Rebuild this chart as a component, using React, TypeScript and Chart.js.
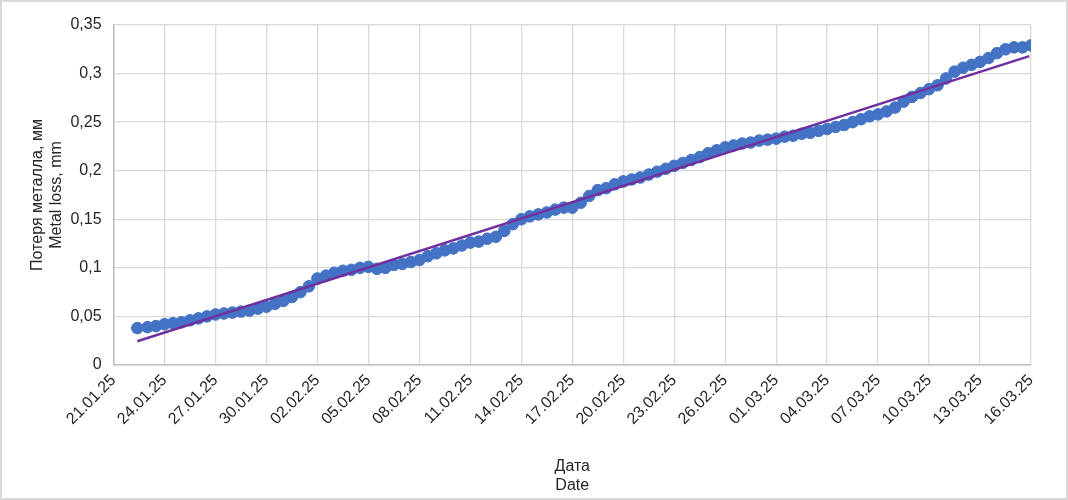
import React, { useEffect, useRef } from "react";
import { Chart, registerables } from "chart.js";

Chart.register(...registerables);

// Day offsets from 21.01.25 (day 0)
const days = [
  1.4, 2.0, 2.5, 3.0, 3.5, 4.0, 4.5, 5.0, 5.5, 6.0, 6.5, 7.0, 7.5, 8.0, 8.5, 9.0, 9.5, 10.0, 10.5, 11.0,
  11.5, 12.0, 12.5, 13.0, 13.5, 14.0, 14.5, 15.0, 15.5, 16.0, 16.5, 17.0, 17.5, 18.0, 18.5, 19.0, 19.5, 20.0,
  20.5, 21.0, 21.5, 22.0, 22.5, 23.0, 23.5, 24.0, 24.5, 25.0, 25.5, 26.0, 26.5, 27.0, 27.5, 28.0, 28.5, 29.0,
  29.5, 30.0, 30.5, 31.0, 31.5, 32.0, 32.5, 33.0, 33.5, 34.0, 34.5, 35.0, 35.5, 36.0, 36.5, 37.0, 37.5, 38.0,
  38.5, 39.0, 39.5, 40.0, 40.5, 41.0, 41.5, 42.0, 42.5, 43.0, 43.5, 44.0, 44.5, 45.0, 45.5, 46.0, 46.5, 47.0,
  47.5, 48.0, 48.5, 49.0, 49.5, 50.0, 50.5, 51.0, 51.5, 52.0, 52.5, 53.0, 53.5, 54.0,
];

// Metal loss, mm
const metalLoss = [
  0.038, 0.039, 0.040, 0.042, 0.043, 0.044, 0.046, 0.048, 0.050, 0.052, 0.053, 0.054, 0.055, 0.056, 0.058, 0.060, 0.063, 0.066, 0.070, 0.075,
  0.081, 0.089, 0.092, 0.095, 0.097, 0.098, 0.100, 0.101, 0.099, 0.100, 0.103, 0.104, 0.106, 0.108, 0.112, 0.115, 0.118, 0.120,
  0.123, 0.126, 0.127, 0.130, 0.132, 0.138, 0.145, 0.150, 0.153, 0.155, 0.157, 0.160, 0.162, 0.162, 0.167, 0.174, 0.180, 0.182,
  0.186, 0.189, 0.191, 0.193, 0.196, 0.199, 0.202, 0.205, 0.208, 0.211, 0.214, 0.218, 0.221, 0.224, 0.226, 0.228, 0.229, 0.231,
  0.232, 0.233, 0.235, 0.236, 0.238, 0.239, 0.241, 0.243, 0.245, 0.247, 0.250, 0.253, 0.256, 0.258, 0.261, 0.265, 0.271, 0.276,
  0.280, 0.284, 0.288, 0.295, 0.302, 0.306, 0.309, 0.312, 0.316, 0.321, 0.325, 0.327, 0.327, 0.329,
];

// Linear trend end points
const trendDays = [1.4, 53.9];
const trendValues = [0.0245, 0.318];

const xTitle = ["Дата", "Date"];
const yTitle = ["Потеря металла, мм", "Metal loss, mm"];

const startDate = new Date(2025, 0, 21);

function fmtDate(day: number): string {
  const d = new Date(startDate.getTime());
  d.setDate(d.getDate() + Math.round(day));
  const dd = String(d.getDate()).padStart(2, "0");
  const mm = String(d.getMonth() + 1).padStart(2, "0");
  const yy = String(d.getFullYear() % 100).padStart(2, "0");
  return `${dd}.${mm}.${yy}`;
}

export default function App() {
  const ref = useRef<HTMLCanvasElement | null>(null);

  useEffect(() => {
    if (!ref.current) return;
    const font = { family: "'Liberation Sans', Arial, sans-serif", size: 16 };
    const textColor = "#262626";
    const chart = new Chart(ref.current, {
      type: "scatter",
      data: {
        datasets: [
          {
            label: "Trend",
            type: "line",
            data: trendDays.map((d, i) => ({ x: d, y: trendValues[i] })),
            borderColor: "#7030A0",
            borderWidth: 2.5,
            pointRadius: 0,
            fill: false,
            order: 0,
          },
          {
            label: "Metal loss",
            data: days.map((d, i) => ({ x: d, y: metalLoss[i] })),
            backgroundColor: "#4472C4",
            borderColor: "#4472C4",
            pointRadius: 5.8,
            pointBorderWidth: 1,
            showLine: false,
            order: 1,
          },
        ],
      },
      options: {
        animation: false,
        responsive: true,
        maintainAspectRatio: false,
        layout: { padding: { left: 26, right: 35, top: 23, bottom: 3 } },
        plugins: {
          legend: { display: false },
          tooltip: { enabled: false },
        },
        scales: {
          x: {
            type: "linear",
            min: 0,
            max: 54,
            grid: { color: "#d9d9d9", lineWidth: 1.3, drawTicks: false },
            border: { color: "#bfbfbf", width: 1.5 },
            ticks: {
              stepSize: 3,
              minRotation: 45,
              maxRotation: 45,
              padding: 6,
              color: textColor,
              font,
              autoSkip: false,
              callback: (v: any) => fmtDate(Number(v)),
            },
            title: {
              display: true,
              text: xTitle,
              color: textColor,
              font,
              padding: { top: 22, bottom: 0 },
            },
          },
          y: {
            min: 0,
            max: 0.35,
            grid: { color: "#d9d9d9", lineWidth: 1.3, drawTicks: false },
            border: { color: "#bfbfbf", width: 1.5 },
            ticks: {
              stepSize: 0.05,
              padding: 12,
              color: textColor,
              font,
              callback: (v: any) => String(Number(Number(v).toFixed(2))).replace(".", ","),
            },
            title: {
              display: true,
              text: yTitle,
              color: textColor,
              font,
              padding: { top: 0, bottom: -8 },
            },
          },
        },
      },
    });
    return () => chart.destroy();
  }, []);

  return (
    <div
      style={{
        position: "fixed",
        left: 0,
        top: 0,
        width: 1068,
        height: 500,
        boxSizing: "border-box",
        border: "2px solid #d9d9d9",
        background: "#fff",
      }}
    >
      <canvas ref={ref} />
    </div>
  );
}
